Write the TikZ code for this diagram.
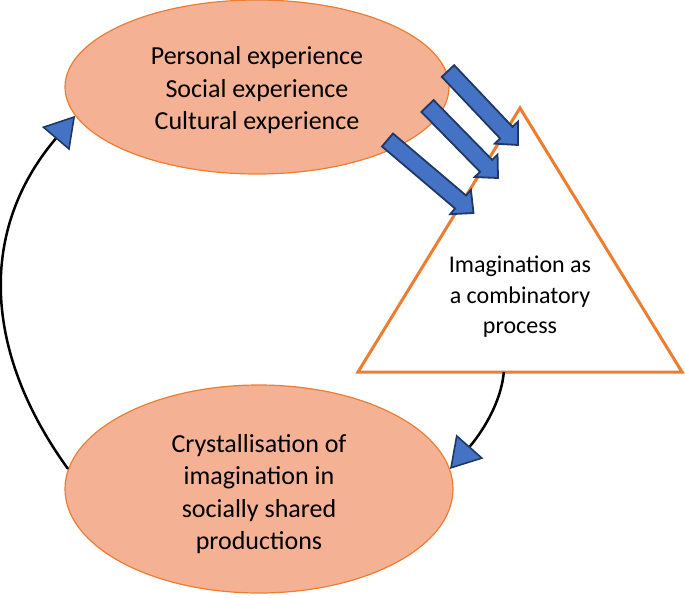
\documentclass[tikz,border=0pt]{standalone}
\usepackage{fontspec}
\setmainfont{Carlito}
\usepackage{tikz}
\usetikzlibrary{shapes.geometric,arrows.meta,calc}
\definecolor{salmon}{HTML}{F4B194}
\definecolor{orangeline}{HTML}{ED7D31}
\definecolor{arrowblue}{HTML}{4472C4}
\definecolor{arrownavy}{HTML}{203864}

\newcommand{\blockarrow}[2]{%
  \coordinate (neck) at ($(#2)!17pt!(#1)$);
  \draw[fatarrow] ($(#1)!8.5pt!90:(#2)$) -- ($(neck)!8.5pt!90:(#2)$)
    -- ($(neck)!16pt!90:(#2)$) -- (#2)
    -- ($(neck)!16pt!-90:(#2)$) -- ($(neck)!8.5pt!-90:(#2)$)
    -- ($(#1)!8.5pt!-90:(#2)$) -- cycle;}

\begin{document}
\begin{tikzpicture}[x=1pt,y=-1pt,
  blob/.style={ellipse, draw=orangeline, line width=1.2pt, fill=salmon, inner sep=0pt,
    align=center, font=\fontsize{26}{32.5}\selectfont},
  fatarrow/.style={fill=arrowblue, draw=arrownavy, line width=1.8pt, line join=miter},
  cycleline/.style={line width=2.5pt,
    -{Triangle[length=30pt,width=36pt,fill=arrowblue,color=arrownavy,line width=1.6pt]}}]
\useasboundingbox (0,0) rectangle (685,597);

\node[blob, minimum width=384pt, minimum height=174pt] (exp) at (257,87)
  {\rule{0pt}{25pt}Personal experience\\Social experience\\Cultural experience};
\node[blob, minimum width=388pt, minimum height=208pt] (cryst) at (259,489)
  {\rule{0pt}{28pt}Crystallisation of\\imagination in\\socially shared\\productions};

\coordinate (apex) at (520,108);
\coordinate (bR) at (682,372);
\coordinate (bL) at (358,372);
\draw[orangeline, line width=3pt, line join=miter, fill=white] (apex) -- (bR) -- (bL) -- cycle;
\node[font=\fontsize{24}{30.5}\selectfont, align=center, inner sep=0pt] (proc) at (520,297)
  {Imagination as\\a combinatory\\process};

\coordinate (tA) at (448,71);   \coordinate (hA) at (518,145);
\coordinate (tB) at (427.5,106); \coordinate (hB) at (498,178);
\coordinate (tC) at (387.5,140); \coordinate (hC) at (473.5,213);
\blockarrow{tA}{hA}
\blockarrow{tB}{hB}
\blockarrow{tC}{hC}

\coordinate (bmid) at ($(bL)!0.45!(bR)$);
\draw[cycleline] (bmid) .. controls (501,405) and (479,436) .. (cryst.6);
\draw[cycleline] (cryst.174) .. controls (-18,350) and (-21,229) .. (exp.189);
\end{tikzpicture}
\end{document}
